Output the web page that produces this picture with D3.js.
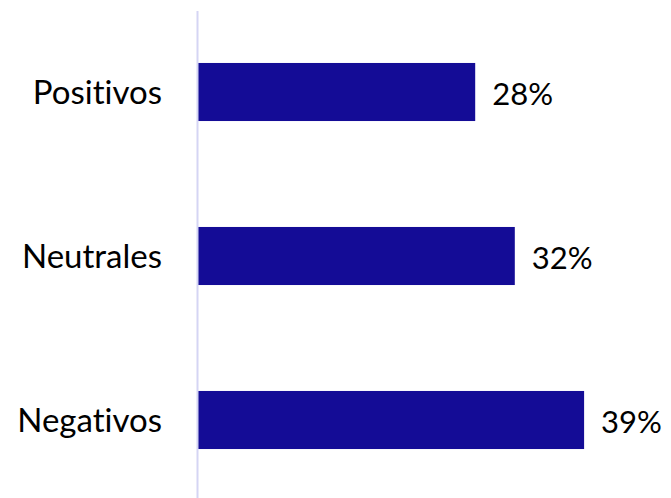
<!DOCTYPE html>
<html>
<head>
<meta charset="utf-8">
<script src="https://cdn.jsdelivr.net/npm/d3@7"></script>
<style>
  body { margin: 0; background: #fff; }
  text { font-family: Lato, "Open Sans", sans-serif; fill: #000; font-variant-ligatures: none; }
</style>
</head>
<body>
<div id="chart"></div>
<script>
const categories = ['Positivos', 'Neutrales', 'Negativos']
const values = [28, 32, 39]
const valueLabels = ['28%', '32%', '39%']

const w = 671
const h = 498
const x0 = 198

const svg = d3.select('#chart')
    .append('svg')
    .attr('width', w)
    .attr('height', h)

const xScale = d3.scaleLinear()
    .domain([0, 40])
    .range([x0, x0 + 396])

const yScale = d3.scaleBand()
    .domain(categories)
    .range([10, 502])
    .paddingInner(0.646)
    .paddingOuter(0.323)

// bars
svg.selectAll('rect.bar')
    .data(values)
    .enter()
    .append('rect')
    .attr('class', 'bar')
    .attr('x', xScale(0))
    .attr('y', (d, i) => yScale(categories[i]))
    .attr('width', d => xScale(d) - xScale(0))
    .attr('height', yScale.bandwidth())
    .attr('fill', '#140c96')

// vertical axis line
svg.append('line')
    .attr('x1', x0 - 0.5)
    .attr('x2', x0 - 0.5)
    .attr('y1', 11)
    .attr('y2', h)
    .attr('stroke', '#d5d5f4')
    .attr('stroke-width', 2)

// category labels
svg.selectAll('text.cat')
    .data(categories)
    .enter()
    .append('text')
    .attr('class', 'cat')
    .attr('x', 162)
    .attr('y', d => yScale(d) + yScale.bandwidth() / 2)
    .attr('dy', '0.35em')
    .attr('text-anchor', 'end')
    .style('font-size', '33px')
    .text(d => d)

// value labels
svg.selectAll('text.val')
    .data(values)
    .enter()
    .append('text')
    .attr('class', 'val')
    .attr('x', d => xScale(d) + 17)
    .attr('y', (d, i) => yScale(categories[i]) + yScale.bandwidth() / 2 + 2)
    .attr('dy', '0.35em')
    .style('font-size', '31px')
    .text((d, i) => valueLabels[i])
</script>
</body>
</html>
